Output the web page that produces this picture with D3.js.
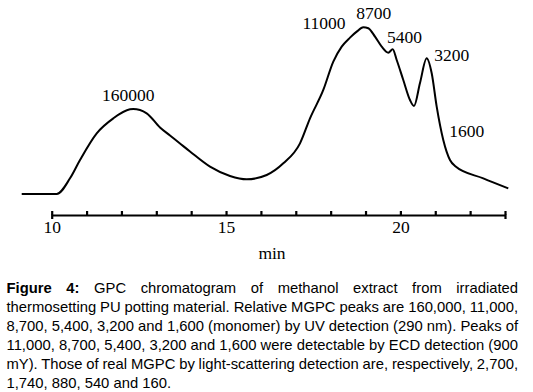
<!DOCTYPE html>
<html>
<head>
<meta charset="utf-8">
<script src="https://cdn.jsdelivr.net/npm/d3@7/dist/d3.min.js"></script>
<style>
  html, body { margin: 0; padding: 0; background: #fff; }
  svg { display: block; }
</style>
</head>
<body>
<svg id="chart" width="533" height="392"></svg>
<script>
// ---- data ----
const times = [9.14, 10.143, 10.525, 10.812, 11.291, 11.767, 12.245, 12.34, 12.724, 13.106, 13.393, 13.679, 13.966,
  14.54, 15.113, 15.592, 16.166, 16.642, 17.121, 17.408, 17.789, 18.076, 18.317, 18.555, 18.747, 18.936,
  19.08, 19.272, 19.464, 19.653, 19.779, 19.894, 20.083, 20.275, 20.39, 20.562, 20.754, 20.898, 21.041,
  21.23, 21.422, 21.566, 22.377, 23.094];
const signal = [0, 0, 9.4, 20.4, 36.4, 45.4, 50.8, 51.0, 48.4, 39.9, 35.1, 30.3, 25.5,
  16.4, 10.8, 8.8, 11.4, 18.4, 30.4, 45.4, 62.4, 79.4, 88.4, 93.8, 97.4, 100,
  99.4, 94.4, 88.4, 84.8, 86.8, 80.4, 68.4, 56.4, 52.8, 66.6, 81.4, 72.4, 52.4,
  32.4, 20.4, 16.8, 9.4, 3.4];
const peakLabels = ["160000", "11000", "8700", "5400", "3200", "1600"];
const labelTime = [12.197, 17.809, 19.237, 20.118, 21.471, 21.901];
const labelLevel = [56.0, 98.8, 104.8, 90.4, 80.0, 34.4];
const tickValues = [10, 11, 12, 13, 14, 15, 16, 17, 18, 19, 20, 21, 22, 23];
const tickLabels = [10, 15, 20];
const xTitle = "min";
const captionBold = "Figure 4:";
const captionLines = [
  " GPC chromatogram of methanol extract from irradiated",
  "thermosetting PU potting material. Relative MGPC peaks are 160,000, 11,000,",
  "8,700, 5,400, 3,200 and 1,600 (monomer) by UV detection (290 nm). Peaks of",
  "11,000, 8,700, 5,400, 3,200 and 1,600 were detectable by ECD detection (900",
  "mY). Those of real MGPC by light-scattering detection are, respectively, 2,700,",
  "1,740, 880, 540 and 160."
];

// ---- layout ----
const svg = d3.select("#chart");
svg.append("rect").attr("width", 533).attr("height", 392).attr("fill", "#fff");

const x = d3.scaleLinear().domain([10, 23]).range([51.7, 505]);
const y = d3.scaleLinear().domain([0, 100]).range([194, 27.3]);
const serif = "'Liberation Serif', 'Times New Roman', serif";
const sans = "'Liberation Sans', Arial, sans-serif";

// curve
const pts = times.map((t, i) => [t, signal[i]]);
svg.append("path")
  .datum(pts)
  .attr("fill", "none")
  .attr("stroke", "#000")
  .attr("stroke-width", 2)
  .attr("stroke-linejoin", "round")
  .attr("d", d3.line().x(d => x(d[0])).y(d => y(d[1])).curve(d3.curveMonotoneX));

// peak labels
svg.append("g").selectAll("text")
  .data(peakLabels)
  .join("text")
  .attr("x", (d, i) => x(labelTime[i]))
  .attr("y", (d, i) => y(labelLevel[i]))
  .attr("text-anchor", "middle")
  .attr("font-family", serif)
  .attr("font-size", 17.5)
  .attr("fill", "#000")
  .text(d => d);

// axis
const axis = d3.axisBottom(x)
  .tickValues(tickValues)
  .tickSizeInner(-4)
  .tickSizeOuter(4)
  .tickPadding(6)
  .tickFormat(d => tickLabels.includes(d) ? d : "");
const gx = svg.append("g").attr("transform", "translate(0,215)").call(axis);
gx.select(".domain").attr("stroke", "#000").attr("stroke-width", 2.2);
gx.selectAll(".tick line").attr("stroke", "#000").attr("stroke-width", 2.2);
gx.selectAll(".tick text")
  .attr("font-family", serif)
  .attr("font-size", 17.5)
  .attr("fill", "#000");

svg.append("text")
  .attr("x", 272)
  .attr("y", 259)
  .attr("text-anchor", "middle")
  .attr("font-family", serif)
  .attr("font-size", 17.5)
  .attr("fill", "#000")
  .text(xTitle);

// caption (justified lines)
const capLeft = 6.5, capRight = 518, capTop = 292.5, capStep = 19;
captionLines.forEach((line, i) => {
  const t = svg.append("text")
    .attr("x", capLeft)
    .attr("y", capTop + i * capStep)
    .attr("font-family", sans)
    .attr("font-size", 14.8)
    .attr("fill", "#000")
    .attr("xml:space", "preserve")
    .style("white-space", "pre");
  if (i === 0) {
    t.append("tspan").attr("font-weight", "bold").text(captionBold);
  }
  t.append("tspan").text(line);
  if (i < captionLines.length - 1) {
    const full = (i === 0 ? captionBold : "") + line;
    const spaces = (full.match(/ /g) || []).length;
    const w = t.node().getComputedTextLength();
    const extra = (capRight - capLeft - w) / spaces;
    t.style("word-spacing", extra + "px");
  }
});
</script>
</body>
</html>
